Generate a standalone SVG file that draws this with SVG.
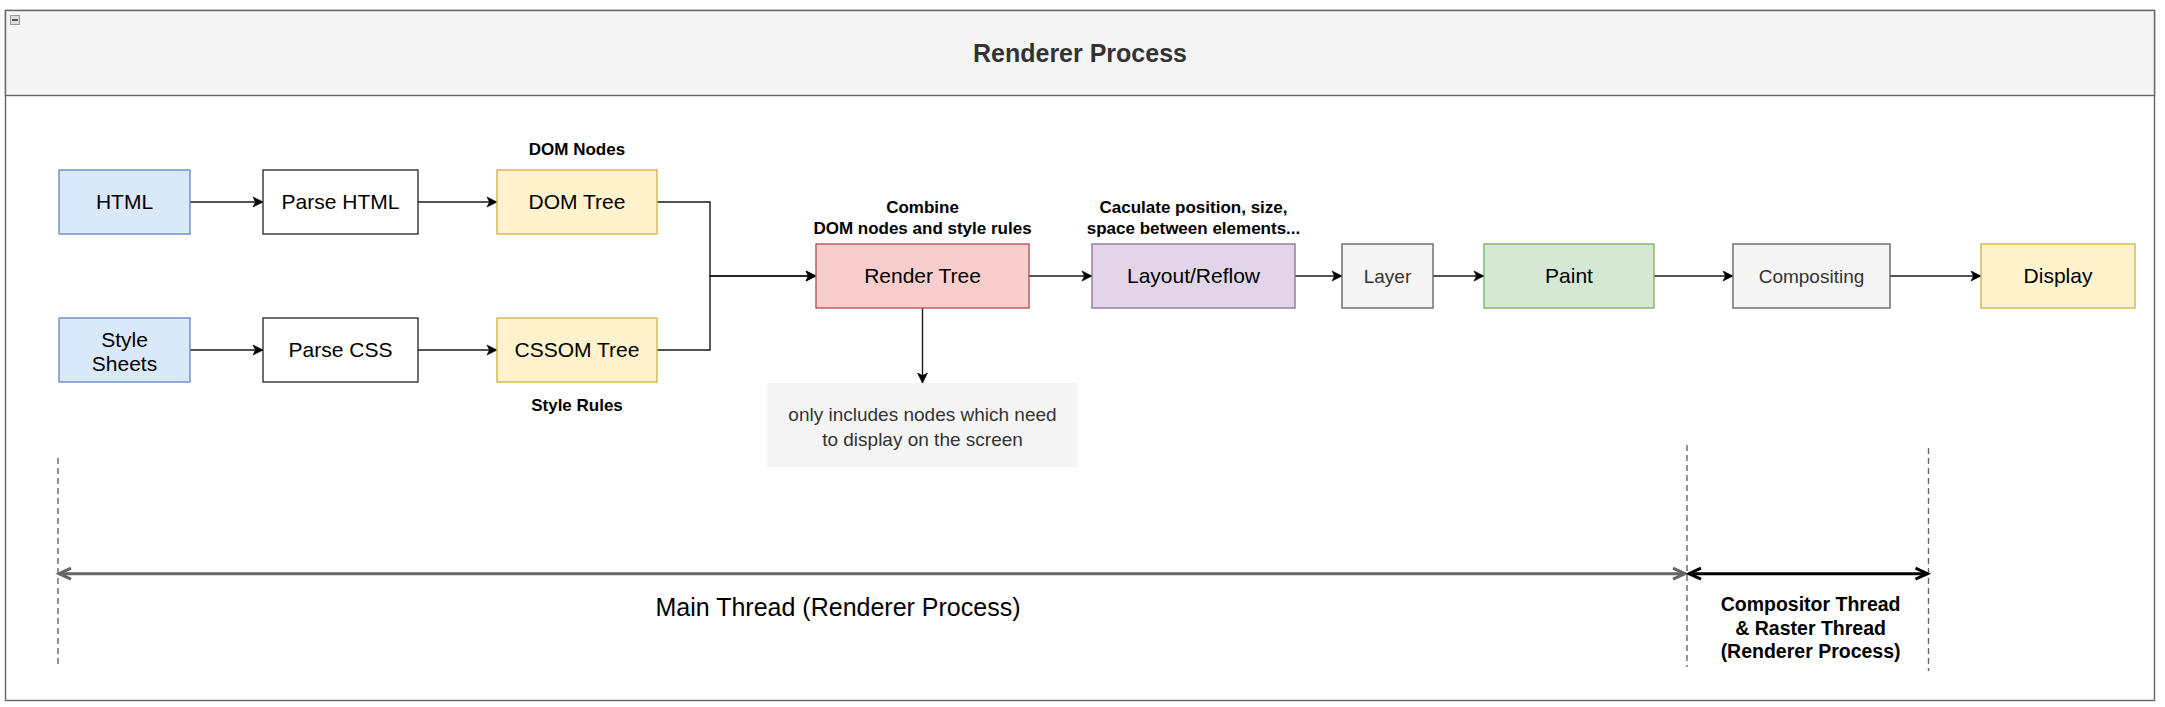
<svg xmlns="http://www.w3.org/2000/svg" width="2165" height="707" viewBox="0 0 2165 707">
<style>
text{font-family:"Liberation Sans",Arial,sans-serif;text-anchor:middle}
.n{font-size:21px;fill:#000}
.g{font-size:19px;fill:#333}
.b{font-size:17px;font-weight:bold;fill:#000}
.c{fill:none;stroke:#1a1a1a;stroke-width:1.4}
.box{stroke-width:1.4}
.blue{fill:#dae8fc;stroke:#6c8ebf}
.white{fill:#fff;stroke:#333}
.yel{fill:#fff2cc;stroke:#d6b656}
.red{fill:#f8cecc;stroke:#b85450}
.pur{fill:#e1d5e7;stroke:#9673a6}
.gry{fill:#f5f5f5;stroke:#666}
.grn{fill:#d5e8d4;stroke:#82b366}
.dash{stroke:#666;stroke-width:1.4;stroke-dasharray:6 4;fill:none}
</style>
<defs>
<marker id="ah" markerUnits="userSpaceOnUse" markerWidth="12" markerHeight="12" refX="10" refY="5" orient="auto" overflow="visible">
<path d="M0,0 L10,5 L0,10 L2.5,5 Z" fill="#000" stroke="#000" stroke-width="0.6"/>
</marker>
<marker id="og" markerUnits="userSpaceOnUse" markerWidth="16" markerHeight="14" refX="13" refY="6" orient="auto-start-reverse" overflow="visible">
<path d="M1,0.5 L13,6 L1,11.5" fill="none" stroke="#666" stroke-width="3"/>
</marker>
<marker id="ob" markerUnits="userSpaceOnUse" markerWidth="16" markerHeight="14" refX="13" refY="6" orient="auto-start-reverse" overflow="visible">
<path d="M1,0.5 L13,6 L1,11.5" fill="none" stroke="#000" stroke-width="3"/>
</marker>
</defs>

<g id="container">
<rect x="5.5" y="10.5" width="2149" height="690" fill="#fff" stroke="#666" stroke-width="1.4"/>
<rect x="5.5" y="10.5" width="2149" height="85" fill="#f5f5f5" stroke="#666" stroke-width="1.4"/>
<rect x="10.5" y="15.5" width="9" height="9" fill="#ddd" stroke="#999" stroke-width="1"/>
<line x1="12" y1="20" x2="18" y2="20" stroke="#555" stroke-width="2"/>
<text x="1080" y="61.8" style="font-size:25px;font-weight:bold;fill:#333">Renderer Process</text>
</g>

<g id="connectors">
<line class="c" x1="190" y1="202" x2="263" y2="202" marker-end="url(#ah)"/>
<line class="c" x1="418" y1="202" x2="497" y2="202" marker-end="url(#ah)"/>
<line class="c" x1="190" y1="350" x2="263" y2="350" marker-end="url(#ah)"/>
<line class="c" x1="418" y1="350" x2="497" y2="350" marker-end="url(#ah)"/>
<polyline class="c" points="657,202 710,202 710,276 816,276" marker-end="url(#ah)"/>
<polyline class="c" points="657,350 710,350 710,276 816,276" marker-end="url(#ah)"/>
<line class="c" x1="1029" y1="276" x2="1092" y2="276" marker-end="url(#ah)"/>
<line class="c" x1="1295" y1="276" x2="1342" y2="276" marker-end="url(#ah)"/>
<line class="c" x1="1433" y1="276" x2="1484" y2="276" marker-end="url(#ah)"/>
<line class="c" x1="1654" y1="276" x2="1733" y2="276" marker-end="url(#ah)"/>
<line class="c" x1="1890" y1="276" x2="1981" y2="276" marker-end="url(#ah)"/>
<line class="c" x1="922.5" y1="308" x2="922.5" y2="383" marker-end="url(#ah)"/>
</g>

<g id="html"><rect class="box blue" x="59" y="170" width="131" height="64"/><text class="n" x="124.5" y="209.4">HTML</text></g>
<g id="parse-html"><rect class="box white" x="263" y="170" width="155" height="64"/><text class="n" x="340.5" y="209.4">Parse HTML</text></g>
<g id="dom-tree"><rect class="box yel" x="497" y="170" width="160" height="64"/><text class="n" x="577" y="209.4">DOM Tree</text></g>
<g id="dom-nodes-label"><text class="b" x="577" y="155">DOM Nodes</text></g>
<g id="style-sheets"><rect class="box blue" x="59" y="318" width="131" height="64"/><text class="n" x="124.5" y="346.7">Style</text><text class="n" x="124.5" y="370.9">Sheets</text></g>
<g id="parse-css"><rect class="box white" x="263" y="318" width="155" height="64"/><text class="n" x="340.5" y="357.4">Parse CSS</text></g>
<g id="cssom-tree"><rect class="box yel" x="497" y="318" width="160" height="64"/><text class="n" x="577" y="357.4">CSSOM Tree</text></g>
<g id="style-rules-label"><text class="b" x="577" y="410.5">Style Rules</text></g>
<g id="render-tree"><rect class="box red" x="816" y="244" width="213" height="64"/><text class="n" x="922.5" y="283.4">Render Tree</text></g>
<g id="combine-label"><text class="b" x="922.5" y="212.6">Combine</text><text class="b" x="922.5" y="233.6">DOM nodes and style rules</text></g>
<g id="layout"><rect class="box pur" x="1092" y="244" width="203" height="64"/><text class="n" x="1193.5" y="283.4">Layout/Reflow</text></g>
<g id="calc-label"><text class="b" x="1193.5" y="212.6">Caculate position, size,</text><text class="b" x="1193.5" y="233.6">space between elements...</text></g>
<g id="layer"><rect class="box gry" x="1342" y="244" width="91" height="64"/><text class="g" x="1387.5" y="282.7">Layer</text></g>
<g id="paint"><rect class="box grn" x="1484" y="244" width="170" height="64"/><text class="n" x="1569" y="283.4">Paint</text></g>
<g id="compositing"><rect class="box gry" x="1733" y="244" width="157" height="64"/><text class="g" x="1811.5" y="282.7">Compositing</text></g>
<g id="display"><rect class="box yel" x="1981" y="244" width="154" height="64"/><text class="n" x="2058" y="283.4">Display</text></g>
<g id="note"><rect x="767" y="383" width="311" height="84" fill="#f5f5f5"/><text class="g" x="922.5" y="421">only includes nodes which need</text><text class="g" x="922.5" y="446">to display on the screen</text></g>

<g id="threads">
<line class="dash" x1="58" y1="458" x2="58" y2="668"/>
<line class="dash" x1="1687" y1="445" x2="1687" y2="667"/>
<line class="dash" x1="1928.5" y1="448" x2="1928.5" y2="671"/>
<line x1="59" y1="573.7" x2="1685" y2="573.7" stroke="#666" stroke-width="3" marker-start="url(#og)" marker-end="url(#og)"/>
<line x1="1689" y1="573.7" x2="1927.5" y2="573.7" stroke="#000" stroke-width="3" marker-start="url(#ob)" marker-end="url(#ob)"/>
<text x="838" y="615.5" style="font-size:25px;fill:#000">Main Thread (Renderer Process)</text>
<text x="1810.6" y="611.2" style="font-size:19.5px;font-weight:bold;fill:#000">Compositor Thread</text>
<text x="1810.6" y="634.6" style="font-size:19.5px;font-weight:bold;fill:#000">&amp; Raster Thread</text>
<text x="1810.6" y="657.6" style="font-size:19.5px;font-weight:bold;fill:#000">(Renderer Process)</text>
</g>
</svg>
